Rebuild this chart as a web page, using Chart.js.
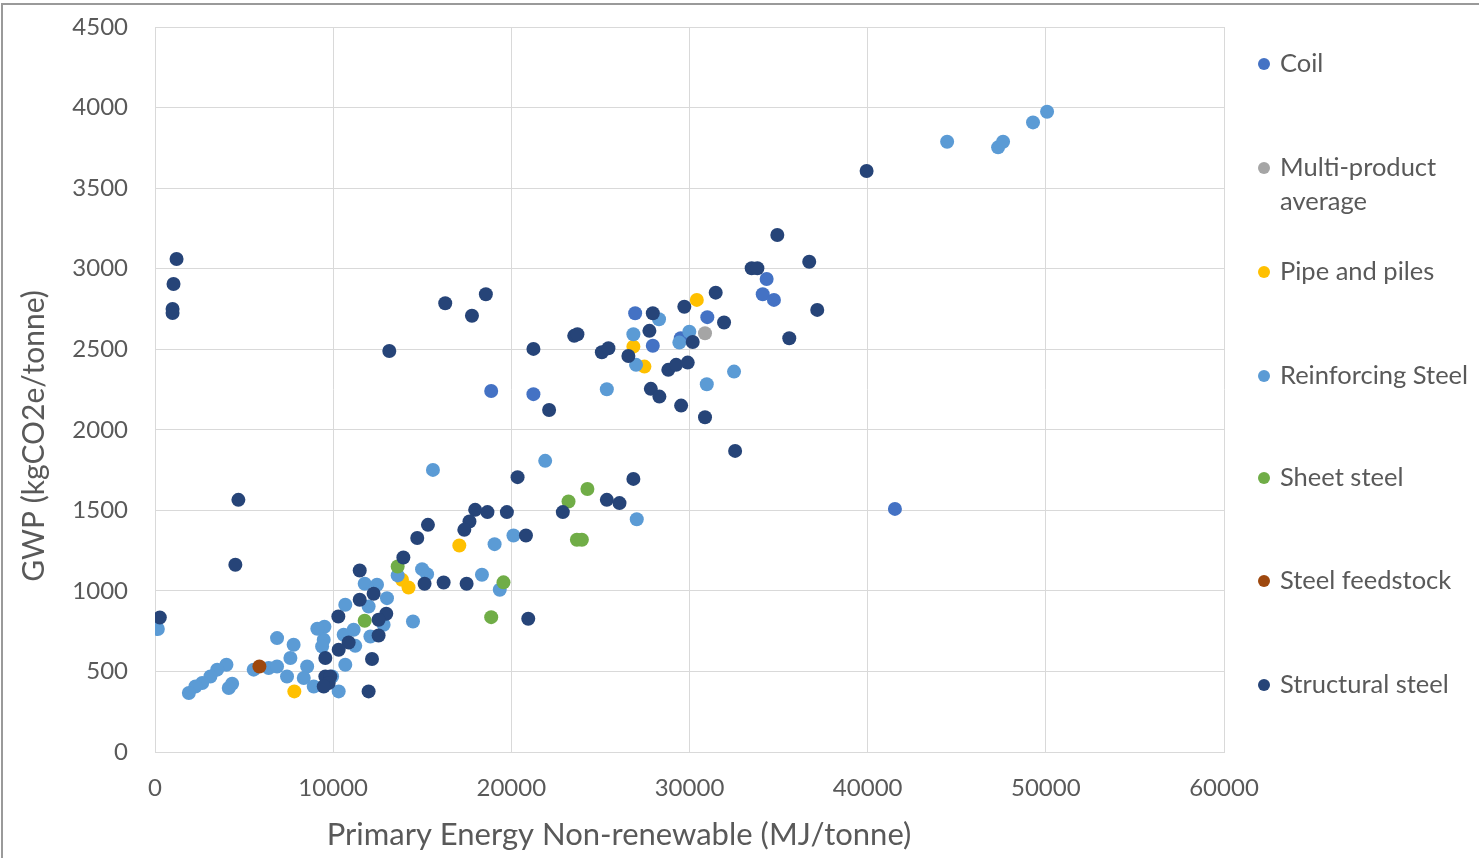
<!DOCTYPE html>
<html>
<head>
<meta charset="utf-8">
<script src="https://cdn.jsdelivr.net/npm/chart.js@4"></script>
<style>
  html, body { margin: 0; padding: 0; background: #ffffff; }
  #wrap { position: relative; width: 1479px; height: 858px; }
</style>
</head>
<body>
<div id="wrap"><canvas id="c"></canvas></div>
<script>
// ---- data (x: Primary Energy Non-renewable MJ/tonne, y: GWP kgCO2e/tonne) ----
const seriesNames = ['Coil', 'Multi-product average', 'Pipe and piles', 'Reinforcing Steel', 'Sheet steel', 'Steel feedstock', 'Structural steel'];
const legendLines = [['Coil'], ['Multi-product', 'average'], ['Pipe and piles'], ['Reinforcing Steel'], ['Sheet steel'], ['Steel feedstock'], ['Structural steel']];
const seriesColors = ['#4472C4', '#A5A5A5', '#FFC000', '#5B9BD5', '#70AD47', '#9E480E', '#264478'];

const xTicks = [0, 10000, 20000, 30000, 40000, 50000, 60000];
const yTicks = [0, 500, 1000, 1500, 2000, 2500, 3000, 3500, 4000, 4500];

const coil = [
  [26950, 2723], [27940, 2522], [18870, 2241], [21240, 2221], [31000, 2699],
  [29510, 2568], [34330, 2936], [34110, 2841], [34740, 2806], [41530, 1509]
];
const multiProduct = [
  [30870, 2599]
];
const pipePiles = [
  [30410, 2806], [26850, 2516], [27470, 2392], [17080, 1282], [13860, 1069],
  [14230, 1021], [7820, 376]
];
const reinforcing = [
  [44460, 3788], [47320, 3753], [47600, 3788], [49280, 3908], [50070, 3974],
  [28290, 2686], [26850, 2593], [27000, 2403], [25360, 2252], [29990, 2609],
  [29430, 2541], [32500, 2361], [30970, 2283], [15600, 1751], [21900, 1807],
  [27040, 1445], [19060, 1290], [20120, 1344], [13620, 1096], [14990, 1135],
  [15270, 1104], [18350, 1100], [19350, 1007], [11770, 1044], [12460, 1038],
  [13020, 955], [11990, 903], [10680, 914], [14480, 810], [12830, 790],
  [12090, 717], [11240, 659], [10590, 728], [11150, 759], [9510, 777],
  [9470, 697], [9380, 655], [10680, 542], [9940, 469], [10310, 376],
  [30, 775], [160, 763], [6850, 707], [7780, 666], [9110, 765],
  [7600, 583], [7410, 469], [8540, 531], [8350, 459], [8910, 407],
  [5540, 511], [6380, 521], [6850, 531], [4010, 542], [3490, 511],
  [3110, 469], [2650, 428], [2270, 407], [1900, 366], [4330, 424],
  [4140, 397]
];
const sheet = [
  [24270, 1632], [23210, 1555], [23680, 1317], [23960, 1317], [13620, 1151],
  [19560, 1053], [18870, 837], [11770, 815]
];
const feedstock = [
  [5860, 531]
];
const structural = [
  [1210, 3060], [1040, 2905], [985, 2750], [985, 2725], [270, 835],
  [4680, 1565], [4510, 1162], [13150, 2489], [16290, 2785], [18570, 2841],
  [17790, 2708], [21240, 2502], [22120, 2123], [23530, 2583], [23710, 2593],
  [25080, 2481], [25450, 2506], [26570, 2458], [27940, 2723], [27750, 2614],
  [27830, 2254], [28310, 2206], [28810, 2372], [29250, 2403], [29900, 2417],
  [29530, 2150], [30870, 2078], [32560, 1869], [29710, 2764], [31470, 2851],
  [31940, 2666], [30180, 2545], [34930, 3209], [33490, 3003], [33810, 3003],
  [36720, 3043], [37170, 2744], [35600, 2568], [39940, 3606], [20350, 1706],
  [26850, 1695], [22890, 1489], [25360, 1565], [26070, 1545], [17970, 1503],
  [18660, 1489], [19750, 1489], [17650, 1431], [17360, 1379], [15320, 1410],
  [14720, 1328], [20820, 1344], [13940, 1207], [15130, 1044], [16200, 1052],
  [17490, 1044], [11490, 1127], [12270, 982], [11490, 945], [12980, 858],
  [12550, 821], [10290, 841], [20950, 827], [12550, 723], [10870, 680],
  [10310, 635], [9560, 583], [12180, 577], [9560, 469], [9840, 469],
  [9750, 428], [9470, 407], [11990, 376]
];

const allSeries = [coil, multiProduct, pipePiles, reinforcing, sheet, feedstock, structural];

const xTitle = 'Primary Energy Non-renewable (MJ/tonne)';
const yTitle = 'GWP (kgCO2e/tonne)';

const FONT = 'Lato, "Open Sans", sans-serif';
const TEXT = '#595959';
const GRID = '#D9D9D9';

const datasets = allSeries.map((pts, i) => ({
  label: seriesNames[i],
  data: pts.map(p => ({ x: p[0], y: p[1] })),
  backgroundColor: seriesColors[i],
  borderColor: seriesColors[i],
  borderWidth: 0,
  pointRadius: 7,
  pointHoverRadius: 7,
  order: allSeries.length - 1 - i
}));

// outer frame + axis titles + legend drawn on the canvas
const decorations = {
  id: 'decorations',
  beforeDraw(chart) {
    const ctx = chart.ctx;
    ctx.save();
    ctx.fillStyle = '#ffffff';
    ctx.fillRect(0, 0, chart.width, chart.height);
    ctx.strokeStyle = '#9a9a9a';
    ctx.lineWidth = 2;
    ctx.beginPath();
    ctx.moveTo(2, chart.height);
    ctx.lineTo(2, 4);
    ctx.lineTo(chart.width, 4);
    ctx.stroke();
    ctx.restore();
  },
  afterDraw(chart) {
    const ctx = chart.ctx;
    ctx.save();
    ctx.fillStyle = TEXT;
    ctx.textBaseline = 'middle';
    ctx.textAlign = 'center';
    ctx.font = '31px ' + FONT;
    ctx.fillText(xTitle, 619, 835);
    ctx.save();
    ctx.translate(34, 436);
    ctx.rotate(-Math.PI / 2);
    ctx.font = '30px ' + FONT;
    ctx.fillText(yTitle, 0, 0);
    ctx.restore();

    // legend
    ctx.textAlign = 'left';
    ctx.font = '25.5px ' + FONT;
    const legendY = [64, 168, 272, 376, 478, 581, 685];
    legendLines.forEach((lines, i) => {
      const y = legendY[i];
      ctx.fillStyle = seriesColors[i];
      ctx.beginPath();
      ctx.arc(1264, y, 6, 0, Math.PI * 2);
      ctx.fill();
      ctx.fillStyle = TEXT;
      lines.forEach((t, k) => ctx.fillText(t, 1280, y + k * 34));
    });
    ctx.restore();
  }
};

new Chart(document.getElementById('c'), {
  type: 'scatter',
  data: { datasets },
  plugins: [decorations],
  options: {
    responsive: true,
    maintainAspectRatio: false,
    animation: false,
    layout: { padding: { left: 0, right: 255, top: 27, bottom: 0 } },
    plugins: {
      legend: { display: false },
      tooltip: { enabled: false }
    },
    scales: {
      x: {
        type: 'linear',
        min: xTicks[0],
        max: xTicks[xTicks.length - 1],
        afterFit(scale) { scale.height = 106; scale.paddingLeft = 0; scale.paddingRight = 0; },
        afterBuildTicks(scale) { scale.ticks = xTicks.map(v => ({ value: v })); },
        ticks: {
          color: TEXT,
          font: { family: FONT, size: 24 },
          padding: 22,
          callback: v => String(v)
        },
        grid: { color: GRID, lineWidth: 1, drawTicks: false },
        border: { color: GRID, width: 1 }
      },
      y: {
        type: 'linear',
        min: yTicks[0],
        max: yTicks[yTicks.length - 1],
        afterFit(scale) { scale.width = 155; scale.paddingTop = 0; scale.paddingBottom = 0; },
        afterBuildTicks(scale) { scale.ticks = yTicks.map(v => ({ value: v })); },
        ticks: {
          color: TEXT,
          font: { family: FONT, size: 24 },
          padding: 27,
          callback: v => String(v)
        },
        grid: { color: GRID, lineWidth: 1, drawTicks: false },
        border: { color: GRID, width: 1 }
      }
    }
  }
});
</script>
</body>
</html>
